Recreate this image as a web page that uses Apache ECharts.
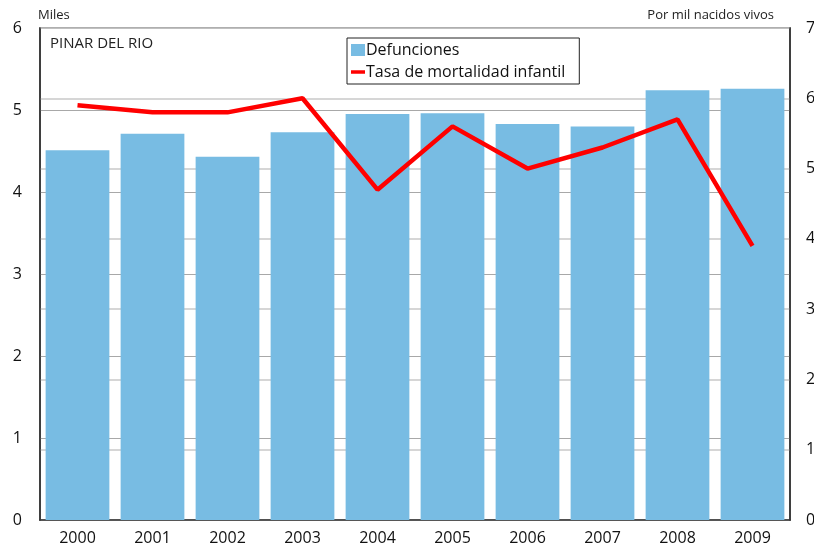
<!DOCTYPE html>
<html>
<head>
<meta charset="utf-8">
<script src="https://cdn.jsdelivr.net/npm/echarts@6/dist/echarts.min.js"></script>
<style>
  html, body { margin: 0; padding: 0; background: #fff; }
  #chart { width: 814px; height: 550px; }
</style>
</head>
<body>
<div id="chart"></div>
<script>
const years = ['2000', '2001', '2002', '2003', '2004', '2005', '2006', '2007', '2008', '2009']
const defunciones = [4.51, 4.71, 4.43, 4.73, 4.95, 4.96, 4.83, 4.80, 5.24, 5.26]
const tasaMortalidad = [5.9, 5.8, 5.8, 6.0, 4.7, 5.6, 5.0, 5.3, 5.7, 3.9]

const font = 'Open Sans'
let myChart = echarts.init(document.getElementById('chart'))

let option = {
  animation: false,
  textStyle: { fontFamily: font },
  grid: {
    left: 40,
    right: 24,
    top: 28,
    bottom: 30,
    show: true,
    borderColor: '#333',
    borderWidth: 1.5,
    containLabel: false,
    outerBoundsMode: 'none'
  },
  graphic: [
    { type: 'text', left: 38, top: 9, style: { text: 'Miles', font: '13px "Open Sans"', fill: '#222' } },
    { type: 'text', right: 40, top: 9, style: { text: 'Por mil nacidos vivos', font: '13px "Open Sans"', fill: '#222' } },
    { type: 'text', left: 50, top: 36, style: { text: 'PINAR DEL RIO', font: '15px "Open Sans"', fill: '#222' } }
  ],
  legend: {
    orient: 'vertical',
    left: 347,
    top: 38,
    padding: [4, 14, 4, 4],
    itemGap: 6,
    itemWidth: 14,
    itemHeight: 12,
    borderColor: '#222',
    borderWidth: 1,
    backgroundColor: '#fff',
    textStyle: { fontSize: 16, color: '#111', padding: [0, 0, 0, -4] },
    data: [
      { name: 'Defunciones', icon: 'rect' },
      { name: 'Tasa de mortalidad infantil', icon: 'path://M0,0h20v5h-20z' }
    ]
  },
  xAxis: {
    type: 'category',
    data: years,
    axisLine: { lineStyle: { color: '#333', width: 1.5 } },
    axisTick: { show: false },
    axisLabel: { fontSize: 16, color: '#111', margin: 10 }
  },
  yAxis: [{
    type: 'value',
    min: 0,
    max: 6,
    interval: 1,
    axisLine: { show: true, lineStyle: { color: '#333', width: 1.5 } },
    axisTick: { show: false },
    axisLabel: { fontSize: 16, color: '#111', margin: 18 },
    splitLine: { lineStyle: { color: '#a8a8a8', width: 1 } }
  }, {
    type: 'value',
    min: 0,
    max: 7,
    interval: 1,
    axisLine: { show: true, lineStyle: { color: '#333', width: 1.5 } },
    axisTick: { show: false },
    axisLabel: { fontSize: 16, color: '#111', margin: 16 },
    splitLine: { show: true, lineStyle: { color: '#c8c8c8', width: 1.5 } }
  }],
  series: [{
    name: 'Defunciones',
    type: 'bar',
    yAxisIndex: 0,
    barCategoryGap: '15%',
    itemStyle: { color: '#78bce3' },
    data: defunciones
  }, {
    name: 'Tasa de mortalidad infantil',
    type: 'line',
    yAxisIndex: 1,
    showSymbol: false,
    symbol: 'none',
    lineStyle: { color: '#ff0000', width: 4.5 },
    itemStyle: { color: '#ff0000' },
    data: tasaMortalidad
  }]
}
myChart.setOption(option)
</script>
</body>
</html>
